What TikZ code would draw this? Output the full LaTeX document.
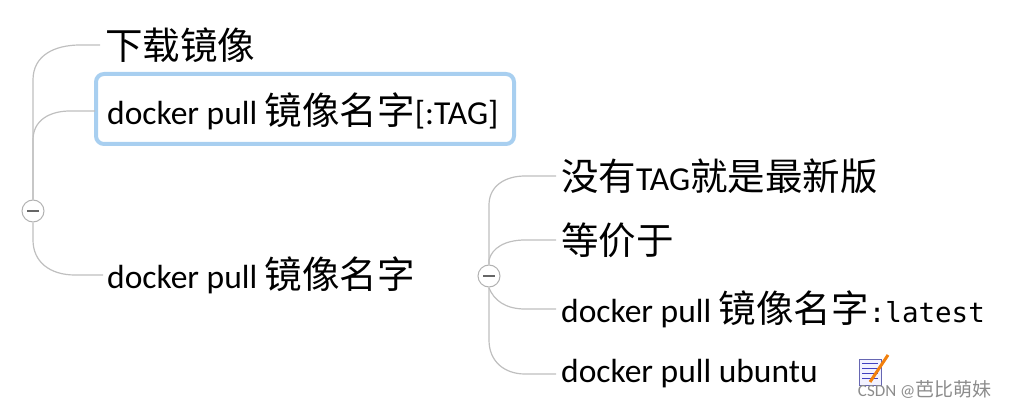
\documentclass[tikz,border=0pt]{standalone}
\usepackage{fontspec}
\setmainfont{Carlito}
\newfontfamily\cjk[Scale=1.12]{Noto Sans CJK SC}
\setmonofont{DejaVu Sans Mono}
\begin{document}
\begin{tikzpicture}[x=1pt,y=-1pt,
  conn/.style={draw=black!25,line width=1.2pt},
  tog/.style={circle,draw=black!30,line width=1pt,fill=white,minimum size=22pt,inner sep=0pt},
  topic/.style={anchor=west,inner sep=0pt,font=\fontsize{33.5}{33.5}\selectfont}]
\useasboundingbox (0,0) rectangle (1009,409);
\node[tog] (c1) at (33,211) {};
\draw[black!60,line width=2pt] (27,211) -- (39,211);
\node[tog] (c2) at (489,276) {};
\draw[black!60,line width=2pt] (483,276) -- (495,276);
\node[topic] (t1) at (105,45) {\cjk 下载镜像};
\draw[draw={rgb,255:red,168;green,207;blue,240},line width=4pt,rounded corners=8pt] (96,74) rectangle (514,144);
\node[topic] (t2) at (107,111) {docker pull {\cjk 镜像名字}[:TAG]};
\node[topic] (t3) at (107,275) {docker pull {\cjk 镜像名字}};
\node[topic] (s1) at (561,176) {{\cjk 没有}TAG{\cjk 就是最新版}};
\node[topic] (s2) at (561,240) {\cjk 等价于};
\node[topic] (s3) at (561,309) {docker pull {\cjk 镜像名字}\texttt{\fontsize{27.5}{27.5}\selectfont :latest}};
\node[topic] (s4) at (561,374) {docker pull ubuntu};
\coordinate (b1) at (100,45);
\coordinate (b2) at (95,111);
\coordinate (b3) at (103,275);
\draw[conn] (c1.north) -- (33,80) .. controls (33,55) and (55,45) .. (80,45) -- (b1);
\draw[conn] (c1.north) -- (33,140) .. controls (33,120) and (50,111) .. (70,111) -- (b2);
\draw[conn] (c1.south) -- (33,240) .. controls (33,262) and (50,275) .. (75,275) -- (b3);
\coordinate (e1) at (556,176);
\coordinate (e2) at (556,240);
\coordinate (e3) at (556,309);
\coordinate (e4) at (556,374);
\draw[conn] (c2.north) -- (489,205) .. controls (489,186) and (505,176) .. (525,176) -- (e1);
\draw[conn] (c2.north) -- (489,260) .. controls (492,248) and (505,240) .. (525,240) -- (e2);
\draw[conn] (c2.south) -- (489,288) .. controls (494,300) and (505,309) .. (525,309) -- (e3);
\draw[conn] (c2.south) -- (489,340) .. controls (489,362) and (505,374) .. (525,374) -- (e4);
% note icon
\node[draw=blue!50!black!60,fill=blue!5,minimum width=22pt,minimum height=26pt,inner sep=0pt] (icon) at (870,372) {};
\foreach \yy in {363,368,373,378} \draw[blue!50!gray] (862,\yy) -- (878,\yy);
\draw[orange!80!brown,line width=3pt] (870,382) -- (888,355);
\node[anchor=east,text=black!45,font=\fontsize{17}{17}\selectfont] (wm) at (995,389) {CSDN @{\cjk 芭比萌妹}};
\end{tikzpicture}
\end{document}
